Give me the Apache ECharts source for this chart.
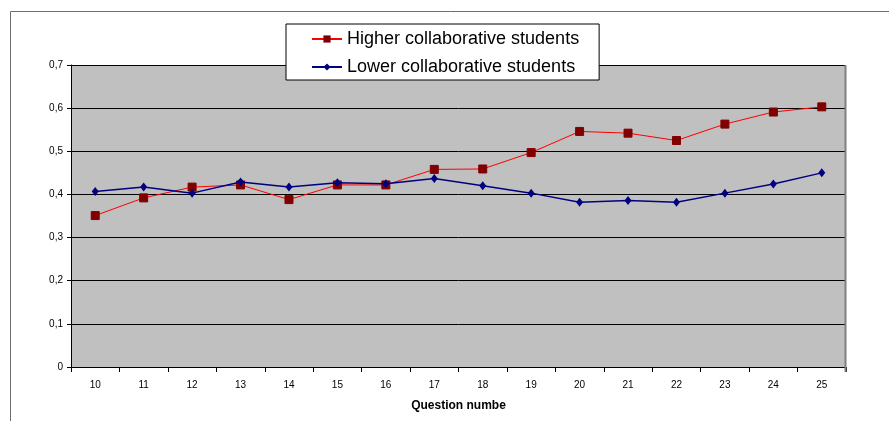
<!DOCTYPE html>
<html>
<head>
<meta charset="utf-8">
<script src="https://cdn.jsdelivr.net/npm/echarts@6/dist/echarts.min.js"></script>
<style>
html,body{margin:0;padding:0;background:#fff;}
#chart{width:889px;height:421px;}
</style>
</head>
<body>
<div id="chart"></div>
<script>
const categories = ['10','11','12','13','14','15','16','17','18','19','20','21','22','23','24','25'];
const higher = [0.351,0.392,0.417,0.422,0.388,0.422,0.422,0.458,0.459,0.497,0.546,0.542,0.525,0.563,0.591,0.603];
const lower  = [0.407,0.417,0.403,0.429,0.417,0.427,0.425,0.437,0.420,0.403,0.382,0.386,0.382,0.403,0.424,0.450];
const seriesNames = ['Higher collaborative students','Lower collaborative students'];
const xAxisName = 'Question numbe';

const chart = echarts.init(document.getElementById('chart'));
const font = 'Liberation Sans, Arial, sans-serif';
chart.setOption({
  animation: false,
  backgroundColor: '#fff',
  graphic: [
    {type:'rect', shape:{x:10.5,y:11.5,width:1000,height:1000}, style:{fill:null, stroke:'#6e6e6e', lineWidth:1}, z:0},
    {type:'line', shape:{x1:845.5,y1:65,x2:845.5,y2:372}, style:{stroke:'#808080', lineWidth:2}, z:10}
  ],
  grid: {left:71, top:65, right:43, bottom:54, show:true, backgroundColor:'#c0c0c0', borderWidth:0},
  legend: {
    orient:'vertical', left:286, top:24,
    padding:[6,20,4,25], itemWidth:30, itemHeight:9, itemGap:10,
    backgroundColor:'#fff', borderColor:'#000', borderWidth:1,
    textStyle:{fontFamily:font, fontSize:18, lineHeight:18, color:'#000'},
    data: seriesNames
  },
  xAxis: {
    type:'category', data:categories, boundaryGap:true,
    name:xAxisName, nameLocation:'middle', nameGap:33,
    nameTextStyle:{fontFamily:font, fontSize:12, fontWeight:'bold', color:'#000'},
    axisLine:{lineStyle:{color:'#000', width:1}},
    axisTick:{show:true, length:5, inside:false, lineStyle:{color:'#000'}},
    axisLabel:{fontFamily:font, fontSize:10, color:'#000', margin:13}
  },
  yAxis: {
    type:'value', min:0, max:0.7, interval:0.1,
    axisLine:{show:true, lineStyle:{color:'#000', width:1}},
    axisTick:{show:true, length:4, lineStyle:{color:'#000'}},
    axisLabel:{fontFamily:font, fontSize:10, color:'#000', margin:8,
      formatter: v => (Math.round(v*10)/10).toString().replace('.', ',')},
    splitLine:{show:true, lineStyle:{color:'#000', width:1}}
  },
  series: [
    {name:seriesNames[0], type:'line', data:higher, symbol:'rect', symbolSize:8,
     lineStyle:{color:'#ff0000', width:1}, itemStyle:{color:'#800000', borderColor:'#800000'}, z:3},
    {name:seriesNames[1], type:'line', data:lower, symbol:'diamond', symbolSize:[7,9],
     lineStyle:{color:'#000080', width:1.5}, itemStyle:{color:'#000080'}, z:4}
  ]
});
</script>
</body>
</html>
